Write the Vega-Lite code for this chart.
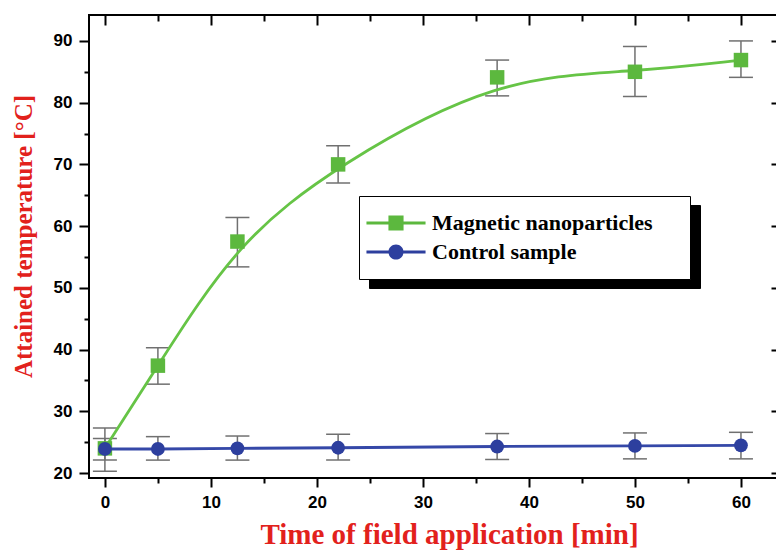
{
  "$schema": "https://vega.github.io/schema/vega-lite/v6.json",
  "width": 688,
  "height": 463,
  "autosize": {"type": "none"},
  "padding": {"left": 89, "top": 15, "right": 0, "bottom": 76},
  "background": "white",
  "config": {
    "view": {"stroke": "black", "strokeWidth": 2},
    "axis": {"domain": false, "grid": false, "tickColor": "black", "tickWidth": 2, "labelColor": "black"}
  },
  "data": {
    "values": [
      {"series": "Magnetic nanoparticles", "t": 0, "temp": 24.0, "lo": 20.3, "hi": 27.3},
      {"series": "Magnetic nanoparticles", "t": 5, "temp": 37.4, "lo": 34.4, "hi": 40.3},
      {"series": "Magnetic nanoparticles", "t": 12.5, "temp": 57.5, "lo": 53.4, "hi": 61.4},
      {"series": "Magnetic nanoparticles", "t": 22, "temp": 70.0, "lo": 67.0, "hi": 73.0},
      {"series": "Magnetic nanoparticles", "t": 37, "temp": 84.1, "lo": 81.1, "hi": 86.9},
      {"series": "Magnetic nanoparticles", "t": 50, "temp": 85.0, "lo": 81.0, "hi": 89.1},
      {"series": "Magnetic nanoparticles", "t": 60, "temp": 86.9, "lo": 84.1, "hi": 90.0},
      {"series": "Control sample", "t": 0, "temp": 23.9, "lo": 22.1, "hi": 25.6},
      {"series": "Control sample", "t": 5, "temp": 23.9, "lo": 22.1, "hi": 25.9},
      {"series": "Control sample", "t": 12.5, "temp": 24.0, "lo": 22.1, "hi": 26.0},
      {"series": "Control sample", "t": 22, "temp": 24.1, "lo": 22.1, "hi": 26.3},
      {"series": "Control sample", "t": 37, "temp": 24.3, "lo": 22.2, "hi": 26.4},
      {"series": "Control sample", "t": 50, "temp": 24.4, "lo": 22.3, "hi": 26.5},
      {"series": "Control sample", "t": 60, "temp": 24.5, "lo": 22.3, "hi": 26.6}
    ]
  },
  "resolve": {
    "axis": {"x": "independent", "y": "independent"},
    "scale": {"color": "independent", "shape": "independent"}
  },
  "layer": [
    {
      "mark": {"type": "rule", "color": "#707070", "strokeWidth": 1.5},
      "encoding": {
        "x": {"field": "t", "type": "quantitative", "scale": {"domain": [-1.5, 63.4], "nice": false, "zero": false}, "axis": null},
        "y": {"field": "lo", "type": "quantitative", "scale": {"domain": [19.2, 94.2], "nice": false, "zero": false}, "axis": null},
        "y2": {"field": "hi"}
      }
    },
    {
      "mark": {"type": "tick", "orient": "horizontal", "color": "#707070", "size": 24, "thickness": 1.5, "opacity": 1},
      "encoding": {
        "x": {"field": "t", "type": "quantitative", "axis": null},
        "y": {"field": "lo", "type": "quantitative", "axis": null}
      }
    },
    {
      "mark": {"type": "tick", "orient": "horizontal", "color": "#707070", "size": 24, "thickness": 1.5, "opacity": 1},
      "encoding": {
        "x": {"field": "t", "type": "quantitative", "axis": null},
        "y": {"field": "hi", "type": "quantitative", "axis": null}
      }
    },
    {
      "transform": [{"filter": "datum.series === 'Magnetic nanoparticles'"}],
      "mark": {"type": "line", "interpolate": "basis", "color": "#66c446", "strokeWidth": 2.8},
      "encoding": {
        "x": {"field": "t", "type": "quantitative", "axis": {
          "orient": "bottom", "title": "Time of field application [min]",
          "values": [0, 5, 10, 15, 20, 25, 30, 35, 40, 45, 50, 55, 60],
          "labelExpr": "datum.value % 10 === 0 ? datum.label : ''",
          "tickSize": {"condition": {"test": "datum.value % 10 !== 0", "value": 5}, "value": 9},
          "labelFont": "Liberation Sans", "labelFontWeight": "bold", "labelFontSize": 17, "labelPadding": 7,
          "titleFont": "Liberation Serif", "titleFontWeight": "bold", "titleFontSize": 29, "titleColor": "#e2211c", "titlePadding": 10,
          "titleX": 360, "titleAlign": "center"
        }},
        "y": {"field": "temp", "type": "quantitative", "axis": {
          "orient": "left", "title": "Attained temperature [°C]",
          "values": [20, 25, 30, 35, 40, 45, 50, 55, 60, 65, 70, 75, 80, 85, 90],
          "labelExpr": "datum.value % 10 === 0 ? datum.label : ''",
          "tickSize": {"condition": {"test": "datum.value % 10 !== 0", "value": 5}, "value": 10},
          "labelFont": "Liberation Sans", "labelFontWeight": "bold", "labelFontSize": 17, "labelPadding": 7,
          "titleFont": "Liberation Serif", "titleFontWeight": "bold", "titleFontSize": 25, "titleColor": "#e2211c", "titlePadding": 17,
          "titleY": 221, "titleAlign": "center"
        }}
      }
    },
    {
      "transform": [{"filter": "datum.series === 'Magnetic nanoparticles'"}],
      "mark": {"type": "point", "shape": "square", "filled": true, "opacity": 1, "color": "#5cb83e", "size": 210},
      "encoding": {
        "x": {"field": "t", "type": "quantitative", "axis": null},
        "y": {"field": "temp", "type": "quantitative", "axis": null}
      }
    },
    {
      "transform": [{"filter": "datum.series === 'Control sample'"}],
      "mark": {"type": "line", "interpolate": "linear", "color": "#3548a8", "strokeWidth": 2.8},
      "encoding": {
        "x": {"field": "t", "type": "quantitative", "axis": {
          "orient": "top", "title": null, "labels": false,
          "values": [0, 5, 10, 15, 20, 25, 30, 35, 40, 45, 50, 55, 60],
          "tickSize": {"condition": {"test": "datum.value % 10 !== 0", "value": -6}, "value": -10}
        }},
        "y": {"field": "temp", "type": "quantitative", "axis": {
          "orient": "right", "title": null, "labels": false,
          "values": [20, 30, 40, 50, 60, 70, 80, 90],
          "tickSize": -6
        }}
      }
    },
    {
      "transform": [{"filter": "datum.series === 'Control sample'"}],
      "mark": {"type": "point", "shape": "circle", "filled": true, "opacity": 1, "color": "#2d3f9e", "size": 190},
      "encoding": {
        "x": {"field": "t", "type": "quantitative", "axis": null},
        "y": {"field": "temp", "type": "quantitative", "axis": null}
      }
    },
    {
      "mark": {"type": "point", "filled": true, "size": 0, "opacity": 0},
      "encoding": {
        "x": {"field": "t", "type": "quantitative", "axis": null},
        "y": {"field": "temp", "type": "quantitative", "axis": null},
        "color": {"field": "series", "type": "nominal",
          "scale": {"domain": ["Magnetic nanoparticles", "Control sample"], "range": ["black", "black"]},
          "legend": {
            "orient": "none", "legendX": 280, "legendY": 190, "title": null, "direction": "vertical",
            "fillColor": "black", "strokeColor": "black", "padding": 13,
            "symbolSize": 784, "symbolOffset": 10, "symbolStrokeWidth": 0,
            "labelExpr": "''", "labelOffset": 22, "labelFontSize": 22, "rowPadding": 1, "zindex": 1
          }
        },
        "shape": {"field": "series", "type": "nominal",
          "scale": {"domain": ["Magnetic nanoparticles", "Control sample"], "range": [
            "M-2.11,-0.1H2.11V0.1H-2.11Z M-0.54,-0.54H0.54V0.54H-0.54Z M20.07,0L20.07,0.001 M0,-1L0.001,-1 M0,1L0.001,1",
            "M-2.11,-0.1H-0.5V0.1H-2.11Z M0.5,-0.1H2.11V0.1H0.5Z M-0.54,0A0.54,0.54 0 1,1 0.54,0A0.54,0.54 0 1,1 -0.54,0Z M20.07,0L20.07,0.001 M0,-1L0.001,-1 M0,1L0.001,1"
          ]}
        }
      }
    },
    {
      "mark": {"type": "point", "filled": true, "size": 0, "opacity": 1},
      "encoding": {
        "x": {"field": "t", "type": "quantitative", "axis": null},
        "y": {"field": "temp", "type": "quantitative", "axis": null},
        "color": {"field": "series", "type": "nominal",
          "scale": {"domain": ["Magnetic nanoparticles", "Control sample"], "range": ["#5cb83e", "#2d3f9e"]},
          "legend": {
            "orient": "none", "legendX": 270, "legendY": 181, "title": null, "direction": "vertical",
            "fillColor": "white", "strokeColor": "black", "padding": 13,
            "symbolSize": 784, "symbolOffset": 10, "symbolStrokeWidth": 0, "symbolOpacity": 1,
            "labelOffset": 22, "labelFont": "Liberation Serif", "labelFontWeight": "bold", "labelFontSize": 22,
            "labelColor": "black", "labelLimit": 600, "rowPadding": 1, "zindex": 2
          }
        },
        "shape": {"field": "series", "type": "nominal",
          "scale": {"domain": ["Magnetic nanoparticles", "Control sample"], "range": [
            "M-2.11,-0.1H2.11V0.1H-2.11Z M-0.54,-0.54H0.54V0.54H-0.54Z M20.07,0L20.07,0.001 M0,-1L0.001,-1 M0,1L0.001,1",
            "M-2.11,-0.1H-0.5V0.1H-2.11Z M0.5,-0.1H2.11V0.1H0.5Z M-0.54,0A0.54,0.54 0 1,1 0.54,0A0.54,0.54 0 1,1 -0.54,0Z M20.07,0L20.07,0.001 M0,-1L0.001,-1 M0,1L0.001,1"
          ]}
        }
      }
    }
  ]
}
